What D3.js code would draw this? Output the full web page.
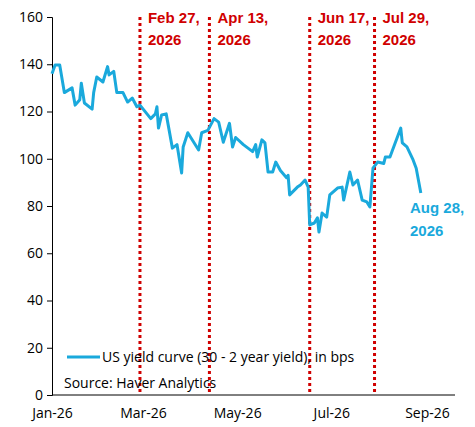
<!DOCTYPE html>
<html><head><meta charset="utf-8">
<script src="https://cdn.jsdelivr.net/npm/d3@7"></script>
<style>body{margin:0;background:#fff;font-family:"Open Sans",sans-serif}</style>
</head><body><svg id="c" width="475" height="427"></svg>
<script>
// days since Jan 1 2026 and curve value (bps)
const days = [0,2,5,8,13,15,18,19,21,26,27,29,33,36,37,40,42,46,49,52,55,57,64,67,68,69,71,74,78,81,84,85,88,95,97,101,105,108,111,115,117,119,124,130,132,133,136,138,140,143,145,148,152,153,154,159,161,164,166,167,170,172,173,175,178,180,185,188,189,193,195,198,201,204,206,208,211,215,216,219,226,227,230,234,236,239];
const values = [136,139.7,139.7,128,130,122.7,125,132,123.6,121,128,134.6,132.5,139,135.5,137,128,128,124,125.7,122,122.7,117,119,122,113,118.5,119,104.5,106,94,105,111,103.7,111,112,117,115.5,107,115,105,109,106,103,106,100.7,108,106.7,94.4,94.4,98.6,95,92,93,84.7,88,88.9,91,88,72,72.8,75,69,77,75.3,84.7,87.6,88,82.5,94.4,88.9,91,82.5,81.7,79.6,96,98.6,98,100.7,100.7,113,106.7,105,99.5,96,85.5];
const events = [["2026-02-27","Feb 27,","2026"],["2026-04-13","Apr 13,","2026"],["2026-06-17","Jun 17,","2026"],["2026-07-29","Jul 29,","2026"]];
const xTicks = ["2026-01-01","2026-03-01","2026-05-01","2026-07-01","2026-09-01"];
const yTicks = [0,20,40,60,80,100,120,140,160];

const red = "#d00000", blue = "#1aa9dc";
const svg = d3.select("#c");
const start = new Date(2026,0,1);
const x = d3.scaleTime().domain([start, new Date(2026,8,1)]).range([52,427]);
const y = d3.scaleLinear().domain([0,160]).range([395,17]);
const pd = d3.timeParse("%Y-%m-%d");

const yAxis = svg.append("g").attr("transform","translate(52,0)")
  .call(d3.axisLeft(y).tickValues(yTicks).tickSize(5).tickPadding(4));
const xAxis = svg.append("g").attr("transform","translate(0,395)")
  .call(d3.axisBottom(x).tickValues(xTicks.map(pd)).tickSize(0).tickPadding(13).tickFormat(d3.timeFormat("%b-%y")));
xAxis.select(".domain").attr("d","M52,0H455");
[yAxis,xAxis].forEach(a=>{a.selectAll("text").attr("font-size",14).attr("fill","#000").attr("font-family","Open Sans");
  a.selectAll("path,line").attr("stroke","#000");});

events.forEach(e=>{
  const px = x(pd(e[0]));
  svg.append("line").attr("x1",px).attr("x2",px).attr("y1",17).attr("y2",395)
    .attr("stroke",red).attr("stroke-width",3).attr("stroke-dasharray","3,3");
  const t = svg.append("text").attr("fill",red).attr("font-weight","bold").attr("font-size",15)
    .attr("font-family","Liberation Sans");
  t.append("tspan").attr("x",px+8).attr("y",23).text(e[1]);
  t.append("tspan").attr("x",px+8).attr("y",45).text(e[2]);
});

const pts = days.map((d,i)=>[d3.timeDay.offset(start,d), values[i]]);
svg.append("path").datum(pts).attr("fill","none").attr("stroke",blue).attr("stroke-width",3)
  .attr("stroke-linejoin","round")
  .attr("d", d3.line().x(d=>x(d[0])).y(d=>y(d[1])));

const lab = svg.append("text").attr("fill",blue).attr("font-weight","bold").attr("font-size",15)
  .attr("font-family","Liberation Sans");
lab.append("tspan").attr("x",410).attr("y",213).text("Aug 28,");
lab.append("tspan").attr("x",410).attr("y",236).text("2026");

svg.append("line").attr("x1",67).attr("x2",100).attr("y1",357).attr("y2",357).attr("stroke",blue).attr("stroke-width",3);
svg.append("text").attr("x",102).attr("y",362).attr("font-size",14).text("US yield curve (30 - 2 year yield), in bps");
svg.append("text").attr("x",64).attr("y",388).attr("font-size",14).text("Source: Haver Analytics");
</script></body></html>
